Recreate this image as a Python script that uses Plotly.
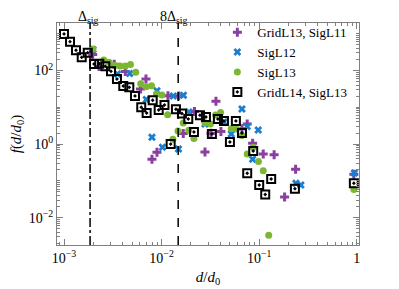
import math
import plotly.graph_objects as go

# ---------------- data ----------------
delta_sig = 0.00185

grid13_x = [1.968e-3, 2.283e-3, 3.27e-3, 4.25e-3, 6.08e-3, 6.92e-3, 7.97e-3, 8.97e-3,
            1.163e-2, 1.497e-2, 1.668e-2, 2.173e-2, 2.786e-2, 3.21e-2, 3.61e-2, 4.06e-2,
            6.67e-2, 7.55e-2, 8.58e-2, 0.1102, 0.1425, 0.1825, 0.2366, 0.936]
grid13_y = [272, 128, 148, 94, 31.4, 58.7, 0.386, 0.599,
            20.6, 20.3, 1.94, 7.69, 0.61, 1.96, 14.6, 2.20,
            2.62, 3.52, 1.05, 0.538, 0.515, 0.0365, 0.2065, 0.151]

sig12_x = [1.982e-3, 3.53e-3, 4.71e-3, 6.97e-3, 7.97e-3, 8.97e-3, 1.021e-2, 1.318e-2,
           1.49e-2, 1.676e-2, 1.909e-2, 2.785e-2, 4.36e-2, 5.18e-2, 6.67e-2, 7.55e-2,
           8.58e-2, 9.79e-2, 0.2383, 0.268, 0.947]
sig12_y = [372, 80.3, 82.8, 16.3, 1.53, 28.1, 0.818, 20.3,
           0.736, 21.3, 7.45, 3.52, 3.99, 1.88, 9.0, 3.0,
           0.386, 2.42, 0.0861, 0.0774, 0.164]

sig13_x = [1.982e-3, 2.552e-3, 2.89e-3, 3.31e-3, 3.75e-3, 4.24e-3, 4.80e-3, 5.43e-3,
           6.11e-3, 6.95e-3, 7.88e-3, 8.87e-3, 1.009e-2, 1.155e-2, 1.306e-2, 1.472e-2,
           1.668e-2, 1.90e-2, 2.148e-2, 2.786e-2, 3.17e-2, 3.58e-2, 4.03e-2, 5.18e-2,
           5.88e-2, 6.67e-2, 7.55e-2, 8.70e-2, 9.84e-2, 0.1102, 0.1254, 0.936]
sig13_y = [384, 193, 167, 137, 132, 132, 146, 89.4,
           43.6, 36.3, 38.4, 22.9, 21.6, 6.25, 1.35, 2.27,
           3.74, 2.37, 1.42, 3.82, 3.52, 6.18, 7.23, 2.62,
           2.57, 1.71, 0.538, 0.818, 0.336, 0.188, 0.00333, 0.0583]

grid14_x = [1.0e-3, 1.152e-3, 1.327e-3, 1.518e-3, 1.75e-3, 2.03e-3, 2.30e-3, 2.65e-3,
            3.03e-3, 3.49e-3, 4.05e-3, 4.67e-3, 5.34e-3, 6.19e-3, 7.03e-3, 8.11e-3,
            9.34e-3, 1.071e-2, 1.239e-2, 1.404e-2, 1.618e-2, 1.878e-2, 2.148e-2, 2.473e-2,
            2.85e-2, 3.28e-2, 3.78e-2, 4.36e-2, 5.02e-2, 5.78e-2, 6.67e-2, 7.55e-2,
            8.70e-2, 0.1002, 0.1155, 0.133, 0.2328, 0.936]
grid14_y = [982, 607, 354, 228, 305, 150, 153, 130,
            95, 58.7, 37.9, 34.9, 20.3, 10.0, 7.0, 15.5,
            8.45, 11.55, 1.0, 8.83, 6.79, 4.81, 2.13, 6.09,
            5.45, 1.88, 4.81, 4.25, 1.14, 4.25, 2.0, 0.161,
            0.649, 0.0774, 0.0427, 0.1127, 0.0614, 0.0861]

x_tickvals = [1e-3, 1e-2, 1e-1, 1]
x_ticktext = ["10<sup>−3</sup>", "10<sup>−2</sup>", "10<sup>−1</sup>", "1"]
y_tickvals = [1e-2, 1, 1e2]
y_ticktext = ["10<sup>−2</sup>", "10<sup>0</sup>", "10<sup>2</sup>"]

# ---------------- figure ----------------
FONT = "Liberation Serif"
fig = go.Figure()

fig.add_trace(go.Scatter(x=grid13_x, y=grid13_y, mode="markers", name="GridL13, SigL11",
                         marker=dict(symbol="cross", size=7.5, color="#8B3FA0", line=dict(width=0))))
fig.add_trace(go.Scatter(x=sig12_x, y=sig12_y, mode="markers", name="SigL12",
                         marker=dict(symbol="x", size=7, color="#1C7ECF", line=dict(width=0))))
fig.add_trace(go.Scatter(x=sig13_x, y=sig13_y, mode="markers", name="SigL13",
                         marker=dict(symbol="circle", size=7, color="#7CB733", line=dict(width=0))))
fig.add_trace(go.Scatter(x=grid14_x, y=grid14_y, mode="markers", name="GridL14, SigL13",
                         marker=dict(symbol="square-open-dot", size=8, color="black",
                                     line=dict(width=2, color="black"))))

fig.add_shape(type="line", xref="x", yref="paper", x0=delta_sig, x1=delta_sig, y0=0, y1=1,
              line=dict(color="black", width=1.5, dash="dashdot"))
fig.add_shape(type="line", xref="x", yref="paper", x0=8 * delta_sig, x1=8 * delta_sig, y0=0, y1=1,
              line=dict(color="black", width=1.5, dash="dash"))

fig.add_annotation(x=math.log10(delta_sig), y=1.0, xref="x", yref="paper", yanchor="bottom",
                   yshift=-4, xshift=-1.5, borderpad=0,
                   text="Δ<sub>sig</sub>", showarrow=False, font=dict(size=14, family=FONT, color="black"))
fig.add_annotation(x=math.log10(8 * delta_sig), y=1.0, xref="x", yref="paper", yanchor="bottom",
                   yshift=-4, xshift=-4, borderpad=0,
                   text="8Δ<sub>sig</sub>", showarrow=False, font=dict(size=14, family=FONT, color="black"))

axis_common = dict(
    type="log", showgrid=False, zeroline=False, showline=True, linecolor="#808080", linewidth=1,
    mirror="ticks", ticks="inside", ticklen=6, tickcolor="#808080", tickwidth=1,
    tickfont=dict(size=14, family=FONT, color="black"),
    minor=dict(ticks="inside", ticklen=3, tickcolor="#808080", tickwidth=1, showgrid=False, dtick="D1"),
)

fig.update_xaxes(range=[-3.072, 0.024], tickvals=x_tickvals, ticktext=x_ticktext,
                 title=dict(text="<i>d</i>/<i>d</i><sub>0</sub>", font=dict(size=15, family=FONT, color="black"),
                            standoff=6),
                 **axis_common)
fig.update_yaxes(range=[-2.742, 3.29], tickvals=y_tickvals, ticktext=y_ticktext,
                 title=dict(text="<i>f</i>(<i>d</i>/<i>d</i><sub>0</sub>)",
                            font=dict(size=15, family=FONT, color="black"), standoff=4),
                 **axis_common)

# the page body adds an 8 px offset at top/left, so the figure is 8 px smaller
fig.update_layout(
    width=391, height=281,
    margin=dict(l=49, r=40, t=15, b=44, autoexpand=False),
    paper_bgcolor="white", plot_bgcolor="white",
    font=dict(family=FONT, color="black"),
    showlegend=True,
    legend=dict(x=0.531, y=1.026, xanchor="left", yanchor="top", bgcolor="rgba(0,0,0,0)",
                borderwidth=0, font=dict(size=13, family=FONT, color="black"),
                itemwidth=30, tracegroupgap=0),
)

fig.write_html("out.html")
